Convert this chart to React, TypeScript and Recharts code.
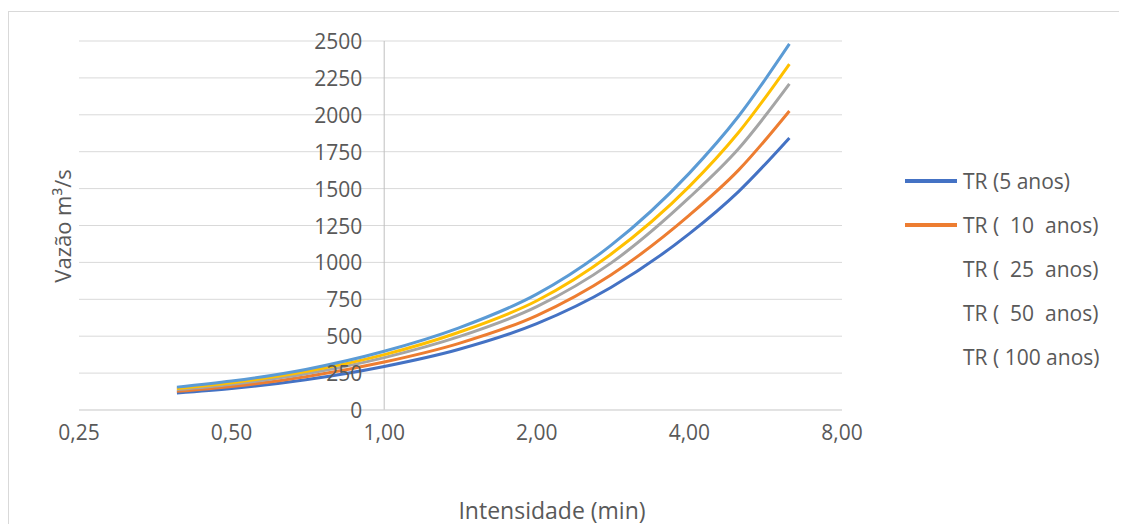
import { CartesianGrid, Line, LineChart, ReferenceLine, XAxis, YAxis } from "recharts";

// intensidade (eixo x) e vazão para cada tempo de retorno
const intensidade = [0.39, 0.5, 0.7, 1.0, 1.4, 2.0, 2.8, 4.0, 5.0, 6.3];
const tr5 = [115, 145, 205, 295, 410, 585, 830, 1195, 1480, 1843];
const tr10 = [127, 160, 225, 325, 450, 640, 915, 1320, 1625, 2026];
const tr25 = [138, 175, 245, 355, 495, 700, 995, 1440, 1770, 2209];
const tr50 = [146, 185, 260, 375, 525, 740, 1055, 1515, 1880, 2344];
const tr100 = [155, 196, 275, 398, 555, 785, 1115, 1605, 1990, 2480];

const seriesNames = ["TR (5 anos)", "TR (  10  anos)", "TR (  25  anos)", "TR (  50  anos)", "TR ( 100 anos)"];
const seriesKeys = ["tr5", "tr10", "tr25", "tr50", "tr100"];
const seriesColors = ["#4472C4", "#ED7D31", "#A5A5A5", "#FFC000", "#5B9BD5"];
const legendSwatch = [true, true, false, false, false];

const xTicks = [0.25, 0.5, 1, 2, 4, 8];
const yTicks = [0, 250, 500, 750, 1000, 1250, 1500, 1750, 2000, 2250, 2500];

const data = intensidade.map((x, i) => ({
	x,
	tr5: tr5[i],
	tr10: tr10[i],
	tr25: tr25[i],
	tr50: tr50[i],
	tr100: tr100[i],
}));

const W = 1118;
const H = 512;
const Y_AXIS_W = 70;
const MARGIN = { top: 29, right: 285, bottom: 0, left: 0 };
const PLOT_W = W - Y_AXIS_W - MARGIN.left - MARGIN.right;
const X_MIN = 0.25;
const X_MAX = 8;
// o eixo vertical cruza em x = 1
const CROSS_X =
	MARGIN.left + Y_AXIS_W + (PLOT_W * Math.log(1 / X_MIN)) / Math.log(X_MAX / X_MIN);

const TEXT = "#595959";
const FONT = '"Open Sans", sans-serif';

const fmtX = (v: number) => v.toFixed(2).replace(".", ",");

function YTick({ y, payload }: any) {
	return (
		<text
			x={CROSS_X - 22}
			y={y}
			textAnchor="end"
			dominantBaseline="central"
			fill={TEXT}
			fontSize={21}
			fontFamily={FONT}
		>
			{payload.value}
		</text>
	);
}

export default function App() {
	return (
		<div style={{ paddingTop: 3 }}>
			<div
				style={{
					position: "relative",
					width: 1119,
					height: 512,
					borderTop: "1px solid #d9d9d9",
					borderLeft: "1px solid #d9d9d9",
					fontFamily: FONT,
					color: TEXT,
				}}
			>
				<LineChart width={W} height={H} data={data} margin={MARGIN}>
					<CartesianGrid vertical={false} stroke="#d9d9d9" />
					<XAxis
						dataKey="x"
						type="number"
						scale="log"
						domain={[X_MIN, X_MAX]}
						ticks={xTicks}
						tickFormatter={fmtX}
						allowDataOverflow
						height={114}
						tickLine={false}
						tickSize={0}
						tickMargin={15}
						axisLine={{ stroke: "#d9d9d9" }}
						tick={{ fill: TEXT, fontSize: 21, fontFamily: FONT }}
					/>
					<YAxis
						width={Y_AXIS_W}
						domain={[0, 2500]}
						ticks={yTicks}
						axisLine={false}
						tickLine={false}
						tick={<YTick />}
					/>
					<ReferenceLine x={1} stroke="#bfbfbf" strokeWidth={1} />
					{seriesKeys.map((k, i) => (
						<Line
							key={k}
							dataKey={k}
							name={seriesNames[i]}
							type="monotone"
							stroke={seriesColors[i]}
							strokeWidth={3}
							dot={false}
							isAnimationActive={false}
						/>
					))}
				</LineChart>

				<div
					style={{
						position: "absolute",
						left: 543,
						top: 498,
						transform: "translate(-50%, -50%)",
						fontSize: 23,
						whiteSpace: "nowrap",
					}}
				>
					Intensidade (min)
				</div>
				<div
					style={{
						position: "absolute",
						left: 53,
						top: 214,
						transform: "translate(-50%, -50%) rotate(-90deg)",
						fontSize: 22,
						whiteSpace: "nowrap",
					}}
				>
					Vazão m³/s
				</div>

				<div style={{ position: "absolute", left: 896, top: 147 }}>
					{seriesNames.map((name, i) => (
						<div
							key={name}
							style={{ display: "flex", alignItems: "center", height: 44 }}
						>
							<div
								style={{
									width: 52,
									height: 4,
									background: legendSwatch[i] ? seriesColors[i] : "transparent",
								}}
							/>
							<span style={{ marginLeft: 6, fontSize: 21, whiteSpace: "pre" }}>
								{name}
							</span>
						</div>
					))}
				</div>
			</div>
		</div>
	);
}
